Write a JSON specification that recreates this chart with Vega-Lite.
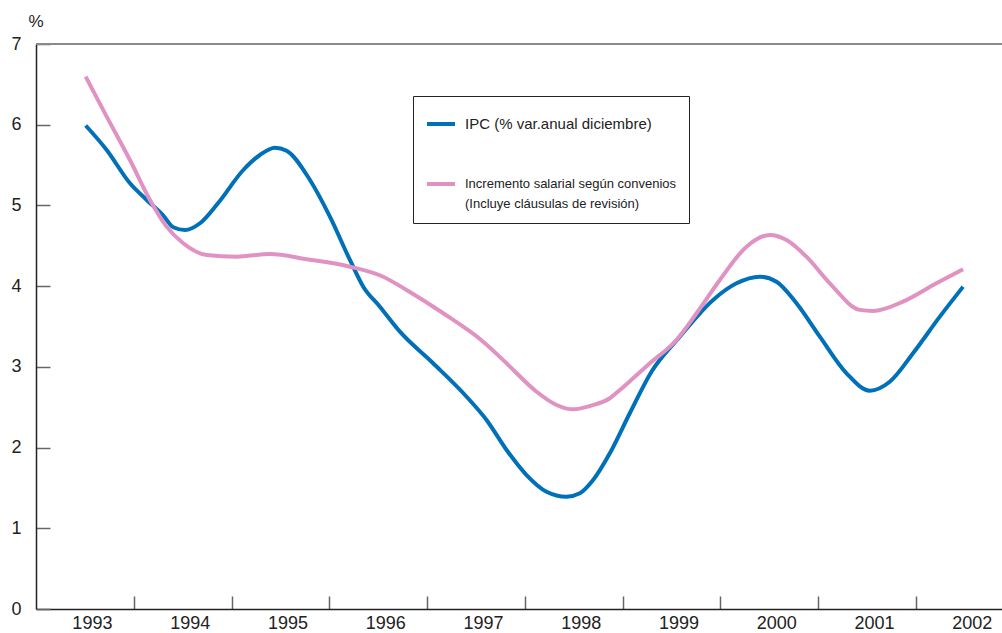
{
  "$schema": "https://vega.github.io/schema/vega-lite/v6.json",
  "width": 966,
  "height": 565,
  "autosize": {"type": "none"},
  "padding": {"left": 36, "top": 44, "right": 0, "bottom": 24},
  "background": "white",
  "config": {
    "view": {"stroke": null},
    "font": "Liberation Sans",
    "style": {"guide-label": {"lineHeight": 20}}
  },
  "data": {
    "values": [
      {"serie": "IPC (% var.anual diciembre)", "t": 1993.008, "v": 5.99},
      {"serie": "IPC (% var.anual diciembre)", "t": 1993.223, "v": 5.687},
      {"serie": "IPC (% var.anual diciembre)", "t": 1993.461, "v": 5.274},
      {"serie": "IPC (% var.anual diciembre)", "t": 1993.632, "v": 5.068},
      {"serie": "IPC (% var.anual diciembre)", "t": 1993.802, "v": 4.874},
      {"serie": "IPC (% var.anual diciembre)", "t": 1993.904, "v": 4.73},
      {"serie": "IPC (% var.anual diciembre)", "t": 1994.024, "v": 4.696},
      {"serie": "IPC (% var.anual diciembre)", "t": 1994.177, "v": 4.779},
      {"serie": "IPC (% var.anual diciembre)", "t": 1994.361, "v": 5.027},
      {"serie": "IPC (% var.anual diciembre)", "t": 1994.62, "v": 5.439},
      {"serie": "IPC (% var.anual diciembre)", "t": 1994.79, "v": 5.625},
      {"serie": "IPC (% var.anual diciembre)", "t": 1994.944, "v": 5.715},
      {"serie": "IPC (% var.anual diciembre)", "t": 1995.063, "v": 5.678},
      {"serie": "IPC (% var.anual diciembre)", "t": 1995.302, "v": 5.315},
      {"serie": "IPC (% var.anual diciembre)", "t": 1995.506, "v": 4.861},
      {"serie": "IPC (% var.anual diciembre)", "t": 1995.711, "v": 4.324},
      {"serie": "IPC (% var.anual diciembre)", "t": 1995.847, "v": 3.993},
      {"serie": "IPC (% var.anual diciembre)", "t": 1996.017, "v": 3.746},
      {"serie": "IPC (% var.anual diciembre)", "t": 1996.222, "v": 3.436},
      {"serie": "IPC (% var.anual diciembre)", "t": 1996.559, "v": 3.048},
      {"serie": "IPC (% var.anual diciembre)", "t": 1996.904, "v": 2.63},
      {"serie": "IPC (% var.anual diciembre)", "t": 1997.108, "v": 2.342},
      {"serie": "IPC (% var.anual diciembre)", "t": 1997.313, "v": 1.97},
      {"serie": "IPC (% var.anual diciembre)", "t": 1997.517, "v": 1.66},
      {"serie": "IPC (% var.anual diciembre)", "t": 1997.722, "v": 1.453},
      {"serie": "IPC (% var.anual diciembre)", "t": 1997.926, "v": 1.391},
      {"serie": "IPC (% var.anual diciembre)", "t": 1998.062, "v": 1.434},
      {"serie": "IPC (% var.anual diciembre)", "t": 1998.198, "v": 1.598},
      {"serie": "IPC (% var.anual diciembre)", "t": 1998.369, "v": 1.929},
      {"serie": "IPC (% var.anual diciembre)", "t": 1998.573, "v": 2.425},
      {"serie": "IPC (% var.anual diciembre)", "t": 1998.795, "v": 2.94},
      {"serie": "IPC (% var.anual diciembre)", "t": 1999.085, "v": 3.374},
      {"serie": "IPC (% var.anual diciembre)", "t": 1999.425, "v": 3.829},
      {"serie": "IPC (% var.anual diciembre)", "t": 1999.665, "v": 4.035},
      {"serie": "IPC (% var.anual diciembre)", "t": 1999.903, "v": 4.117},
      {"serie": "IPC (% var.anual diciembre)", "t": 2000.074, "v": 4.055},
      {"serie": "IPC (% var.anual diciembre)", "t": 2000.278, "v": 3.788},
      {"serie": "IPC (% var.anual diciembre)", "t": 2000.517, "v": 3.374},
      {"serie": "IPC (% var.anual diciembre)", "t": 2000.79, "v": 2.92},
      {"serie": "IPC (% var.anual diciembre)", "t": 2001.028, "v": 2.705},
      {"serie": "IPC (% var.anual diciembre)", "t": 2001.232, "v": 2.816},
      {"serie": "IPC (% var.anual diciembre)", "t": 2001.47, "v": 3.168},
      {"serie": "IPC (% var.anual diciembre)", "t": 2001.744, "v": 3.622},
      {"serie": "IPC (% var.anual diciembre)", "t": 2001.982, "v": 3.993},
      {"serie": "Incremento salarial según convenios", "t": 1993.008, "v": 6.595},
      {"serie": "Incremento salarial según convenios", "t": 1993.223, "v": 6.1},
      {"serie": "Incremento salarial según convenios", "t": 1993.461, "v": 5.563},
      {"serie": "Incremento salarial según convenios", "t": 1993.666, "v": 5.068},
      {"serie": "Incremento salarial según convenios", "t": 1993.836, "v": 4.737},
      {"serie": "Incremento salarial según convenios", "t": 1994.006, "v": 4.531},
      {"serie": "Incremento salarial según convenios", "t": 1994.245, "v": 4.386},
      {"serie": "Incremento salarial según convenios", "t": 1994.552, "v": 4.365},
      {"serie": "Incremento salarial según convenios", "t": 1994.893, "v": 4.398},
      {"serie": "Incremento salarial según convenios", "t": 1995.268, "v": 4.333},
      {"serie": "Incremento salarial según convenios", "t": 1995.711, "v": 4.241},
      {"serie": "Incremento salarial según convenios", "t": 1996.051, "v": 4.117},
      {"serie": "Incremento salarial según convenios", "t": 1996.29, "v": 3.952},
      {"serie": "Incremento salarial según convenios", "t": 1996.665, "v": 3.664},
      {"serie": "Incremento salarial según convenios", "t": 1997.074, "v": 3.312},
      {"serie": "Incremento salarial según convenios", "t": 1997.313, "v": 3.044},
      {"serie": "Incremento salarial según convenios", "t": 1997.62, "v": 2.692},
      {"serie": "Incremento salarial según convenios", "t": 1997.824, "v": 2.528},
      {"serie": "Incremento salarial según convenios", "t": 1997.994, "v": 2.474},
      {"serie": "Incremento salarial según convenios", "t": 1998.165, "v": 2.515},
      {"serie": "Incremento salarial según convenios", "t": 1998.369, "v": 2.611},
      {"serie": "Incremento salarial según convenios", "t": 1998.471, "v": 2.713},
      {"serie": "Incremento salarial según convenios", "t": 1998.607, "v": 2.858},
      {"serie": "Incremento salarial según convenios", "t": 1998.778, "v": 3.044},
      {"serie": "Incremento salarial según convenios", "t": 1999.051, "v": 3.333},
      {"serie": "Incremento salarial según convenios", "t": 1999.256, "v": 3.664},
      {"serie": "Incremento salarial según convenios", "t": 1999.494, "v": 4.076},
      {"serie": "Incremento salarial según convenios", "t": 1999.767, "v": 4.489},
      {"serie": "Incremento salarial según convenios", "t": 2000.005, "v": 4.634},
      {"serie": "Incremento salarial según convenios", "t": 2000.176, "v": 4.572},
      {"serie": "Incremento salarial según convenios", "t": 2000.38, "v": 4.365},
      {"serie": "Incremento salarial según convenios", "t": 2000.619, "v": 4.035},
      {"serie": "Incremento salarial según convenios", "t": 2000.926, "v": 3.706},
      {"serie": "Incremento salarial según convenios", "t": 2001.061, "v": 3.692},
      {"serie": "Incremento salarial según convenios", "t": 2001.368, "v": 3.808},
      {"serie": "Incremento salarial según convenios", "t": 2001.709, "v": 4.035},
      {"serie": "Incremento salarial según convenios", "t": 2001.982, "v": 4.209}
    ]
  },
  "layer": [
    {
      "mark": {"type": "rule", "color": "#8a8a8a", "strokeWidth": 2},
      "encoding": {"y": {"datum": 7}}
    },
    {
      "mark": {"type": "line", "strokeWidth": 4, "interpolate": "monotone"},
      "encoding": {
        "x": {
          "field": "t",
          "type": "quantitative",
          "scale": {"domain": [1992.5, 2002.38], "nice": false, "zero": false},
          "axis": {
            "title": null,
            "values": [1993, 1994, 1995, 1996, 1997, 1998, 1999, 2000, 2001, 2002],
            "format": "d",
            "grid": false,
            "tickOffset": 48.9,
            "labelOffset": -41.9,
            "tickSize": -13,
            "tickColor": "#666",
            "tickWidth": 1.5,
            "domainColor": "#222",
            "domainWidth": 1.5,
            "labelPadding": 18.6,
            "labelFont": "Liberation Sans",
            "labelFontSize": 18,
            "labelColor": "#222",
            "labelOverlap": false,
            "labelFlush": false,
            "labelBound": false
          }
        },
        "y": {
          "field": "v",
          "type": "quantitative",
          "scale": {"domain": [0, 7], "nice": false, "zero": true},
          "axis": {
            "title": "%",
            "titleAngle": 0,
            "titleAlign": "left",
            "titleBaseline": "alphabetic",
            "titleX": -8,
            "titleY": -18,
            "titleFont": "Liberation Sans",
            "titleFontSize": 17,
            "titleFontWeight": "normal",
            "titleColor": "#222",
            "values": [0, 1, 2, 3, 4, 5, 6, 7],
            "format": "d",
            "grid": false,
            "tickSize": -14,
            "tickColor": "#666",
            "tickWidth": 1.5,
            "domainColor": "#222",
            "domainWidth": 1.5,
            "labelPadding": 29,
            "labelFont": "Liberation Sans",
            "labelFontSize": 18,
            "labelColor": "#222",
            "labelOverlap": false,
            "labelFlush": false,
            "labelBound": false
          }
        },
        "color": {
          "field": "serie",
          "type": "nominal",
          "sort": null,
          "scale": {
            "domain": ["IPC (% var.anual diciembre)", "Incremento salarial según convenios"],
            "range": ["#0070b8", "#e092c3"]
          },
          "legend": {
            "title": null,
            "orient": "none",
            "legendX": 377,
            "legendY": 52,
            "padding": 12,
            "strokeColor": "#222",
            "fillColor": "white",
            "symbolType": "stroke",
            "symbolSize": 784,
            "symbolStrokeWidth": 4,
            "labelOffset": 8,
            "labelFont": "Liberation Sans",
            "labelFontSize": 13,
            "labelColor": "#222",
            "labelLimit": 400,
            "rowPadding": 36,
            "labelExpr": "datum.label == 'Incremento salarial según convenios' ? ['Incremento salarial según convenios', '(Incluye cláusulas de revisión)'] : datum.label",
            "encode": {
              "labels": {
                "update": {
                  "fontSize": {"signal": "datum.value == 'IPC (% var.anual diciembre)' ? 15 : 13"}
                }
              }
            }
          }
        }
      }
    }
  ]
}
